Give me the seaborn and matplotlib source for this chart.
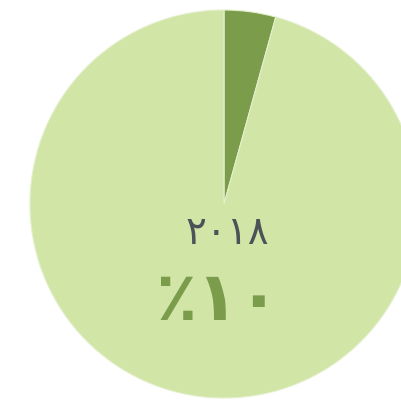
import matplotlib
matplotlib.use("Agg")
import matplotlib.pyplot as plt
import seaborn as sns

# data
labels = ["share", "rest"]
values = [4.3, 95.7]
year_text = "٢٠١٨"
pct_text = "٪١٠"

sns.set_style("white")
plt.rcParams['font.family'] = ['DejaVu Sans', 'DejaVu Sans Mono', 'Noto Sans']

colors = sns.color_palette(["#7a9c4b", "#d1e5a7"])

fig = plt.figure(figsize=(4.01, 4.01), dpi=100)
ax = fig.add_axes([0, 0, 1, 1])

ax.pie(values, colors=colors, startangle=90, counterclock=False,
       center=(224, 197), radius=194,
       wedgeprops=dict(edgecolor="#e4efcc", linewidth=0.8))
ax.set_xlim(0, 401)
ax.set_ylim(0, 401)
ax.set_aspect("equal")
ax.axis("off")

ax.text(227, 401 - 233, year_text, ha="center", va="center",
        fontsize=28, color="#4b5258")
ax.text(218, 401 - 301, pct_text, ha="center", va="center",
        fontsize=49, color="#7a9c4b", fontweight="bold")

fig.savefig("out.png", dpi=100)
